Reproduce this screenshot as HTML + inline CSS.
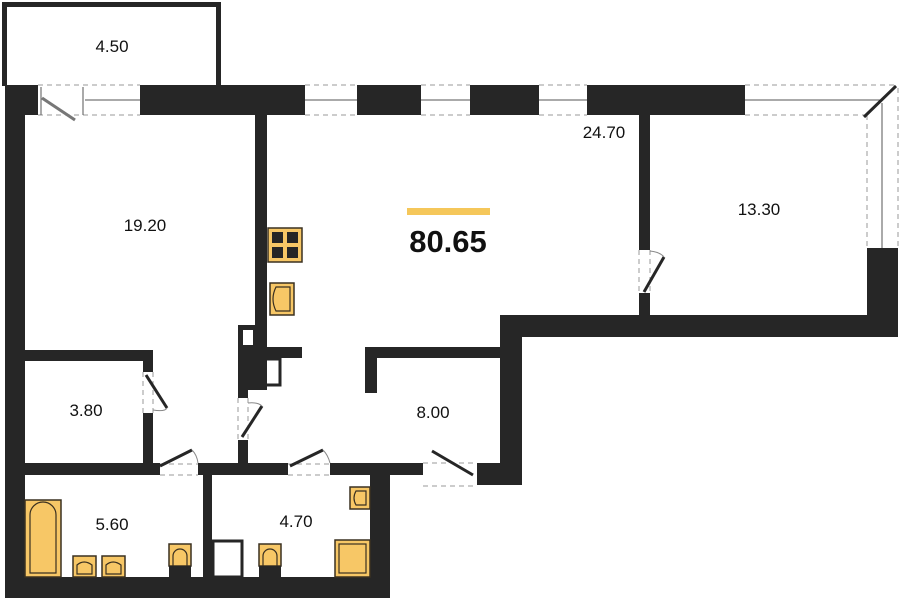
<!DOCTYPE html>
<html><head><meta charset="utf-8"><style>body{margin:0;background:#fff}svg{display:block}</style></head><body>
<svg width="900" height="600" viewBox="0 0 900 600" xmlns="http://www.w3.org/2000/svg" font-family="Liberation Sans, sans-serif">
<g fill="#262626">
<rect x="2" y="2" width="219" height="5"/><rect x="2" y="2" width="5" height="84"/><rect x="216" y="2" width="5" height="84"/>
<rect x="5" y="85" width="33" height="30"/>
<rect x="140" y="85" width="165" height="30"/>
<rect x="357" y="85" width="64" height="30"/>
<rect x="470" y="85" width="69" height="30"/>
<rect x="587" y="85" width="158" height="30"/>
<rect x="5" y="85" width="20" height="513"/>
<rect x="5" y="577" width="385" height="21"/>
<rect x="370" y="463" width="20" height="135"/>
<rect x="255" y="115" width="12" height="215"/>
<rect x="238" y="325" width="29" height="65"/>
<rect x="266" y="347" width="36" height="11"/>
<rect x="238" y="390" width="10" height="8"/>
<rect x="238" y="440" width="10" height="23"/>
<rect x="639" y="115" width="11" height="135"/>
<rect x="639" y="293" width="11" height="22"/>
<rect x="500" y="315" width="398" height="22"/>
<rect x="867" y="248" width="31" height="67"/>
<rect x="500" y="315" width="22" height="170"/>
<rect x="477" y="463" width="45" height="22"/>
<rect x="365" y="347" width="137" height="11"/>
<rect x="365" y="347" width="12" height="46"/>
<rect x="330" y="463" width="93" height="12"/>
<rect x="25" y="350" width="128" height="11"/>
<rect x="143" y="350" width="10" height="22"/>
<rect x="143" y="413" width="10" height="50"/>
<rect x="25" y="463" width="135" height="12"/>
<rect x="198" y="463" width="90" height="12"/>
<rect x="203" y="475" width="9" height="102"/>
</g>
<g fill="#fff">
<rect x="243" y="330" width="10" height="15"/>
</g>
<g fill="none" stroke="#262626" stroke-width="3">
<rect x="261" y="359" width="19" height="26"/>
<rect x="213" y="541" width="29" height="36"/>
</g>
<g stroke="#999" stroke-width="1" stroke-dasharray="5,4" fill="none">
<line x1="38" y1="85" x2="140" y2="85"/><line x1="38" y1="115" x2="140" y2="115"/>
<line x1="305" y1="85" x2="357" y2="85"/><line x1="305" y1="115" x2="357" y2="115"/>
<line x1="421" y1="85" x2="470" y2="85"/><line x1="421" y1="115" x2="470" y2="115"/>
<line x1="539" y1="85" x2="587" y2="85"/><line x1="539" y1="115" x2="587" y2="115"/>
<line x1="745" y1="85" x2="895" y2="85"/><line x1="745" y1="115" x2="865" y2="115"/>
<line x1="867" y1="115" x2="867" y2="248"/><line x1="898" y1="88" x2="898" y2="248"/>
<line x1="143" y1="372" x2="143" y2="413"/><line x1="153" y1="372" x2="153" y2="413"/>
<line x1="238" y1="398" x2="238" y2="440"/><line x1="248" y1="398" x2="248" y2="440"/>
<line x1="639" y1="250" x2="639" y2="293"/><line x1="650" y1="250" x2="650" y2="293"/>
<line x1="160" y1="464" x2="198" y2="464"/><line x1="160" y1="475" x2="198" y2="475"/>
<line x1="288" y1="464" x2="330" y2="464"/><line x1="288" y1="475" x2="330" y2="475"/>
<line x1="423" y1="463" x2="477" y2="463"/><line x1="423" y1="486" x2="477" y2="486"/>
</g>
<g stroke="#555" stroke-width="1" fill="none">
<line x1="85" y1="100" x2="140" y2="100"/><line x1="305" y1="100" x2="357" y2="100"/>
<line x1="421" y1="100" x2="470" y2="100"/><line x1="539" y1="100" x2="587" y2="100"/>
<line x1="745" y1="100" x2="880" y2="100"/><line x1="882" y1="103" x2="882" y2="248"/>
<line x1="41" y1="87" x2="41" y2="115"/><line x1="83" y1="87" x2="83" y2="115"/>
<line x1="42" y1="98" x2="75" y2="120" stroke-width="3" stroke="#777"/>
</g>
<g stroke="#262626" stroke-width="3" fill="none">
<line x1="864" y1="117" x2="896" y2="86"/>
<line x1="146" y1="375" x2="167" y2="408"/>
<line x1="242" y1="437" x2="262" y2="406"/>
<line x1="644" y1="292" x2="664" y2="257"/>
<line x1="160" y1="466" x2="192" y2="450"/>
<line x1="290" y1="466" x2="323" y2="450"/>
<line x1="432" y1="451" x2="473" y2="475"/>
</g>
<g stroke="#888" stroke-width="1" fill="none">
<path d="M153 410 Q165 412 167 408"/><path d="M248 403 Q258 402 262 406"/>
<path d="M650 251 Q660 252 664 257"/><path d="M192 450 Q197 455 198 463"/>
<path d="M323 450 Q328 455 330 463"/>
</g>
<g fill="#f7c766" stroke="#3a3020" stroke-width="1.5">
<rect x="268" y="228" width="34" height="34"/>
<rect x="270" y="283" width="24" height="32"/>
<rect x="25" y="500" width="36" height="77"/>
<rect x="73" y="556" width="23" height="21"/>
<rect x="102" y="556" width="23" height="21"/>
<rect x="169" y="544" width="22" height="22"/>
<rect x="259" y="544" width="22" height="22"/>
<rect x="350" y="487" width="20" height="22"/>
<rect x="335" y="540" width="35" height="37"/>
</g>
<g fill="#262626">
<rect x="272" y="232" width="11" height="11"/><rect x="287" y="232" width="11" height="11"/>
<rect x="272" y="247" width="11" height="11"/><rect x="287" y="247" width="11" height="11"/>
<rect x="169" y="566" width="22" height="11"/><rect x="259" y="566" width="22" height="11"/>
</g>
<g fill="none" stroke="#3a3020" stroke-width="1.2">
<path d="M30 573 V515 A13 13 0 0 1 56 515 V573 Z"/>
<path d="M173 566 V556 A7 7 0 0 1 187 556 V566"/>
<path d="M263 566 V556 A7 7 0 0 1 277 556 V566"/>
<rect x="339" y="544" width="27" height="29"/>
<path d="M276 287 H290 V311 H276 Q270 299 276 287Z"/>
<path d="M77 574 V565 Q84 559 92 565 V574Z"/><path d="M106 574 V565 Q113 559 121 565 V574Z"/>
<path d="M366 491 H356 Q352 498 356 505 H366Z"/>
</g>
<rect x="407" y="208" width="83" height="7" fill="#f5c75a"/>
<g fill="#111" font-size="17" text-anchor="middle">
<text x="112" y="52">4.50</text>
<text x="145" y="231">19.20</text>
<text x="604" y="138">24.70</text>
<text x="759" y="215">13.30</text>
<text x="86" y="416">3.80</text>
<text x="433" y="418">8.00</text>
<text x="112" y="530">5.60</text>
<text x="296" y="527">4.70</text>
<text x="448" y="252" font-size="31" font-weight="bold">80.65</text>
</g>
</svg>
</body></html>
